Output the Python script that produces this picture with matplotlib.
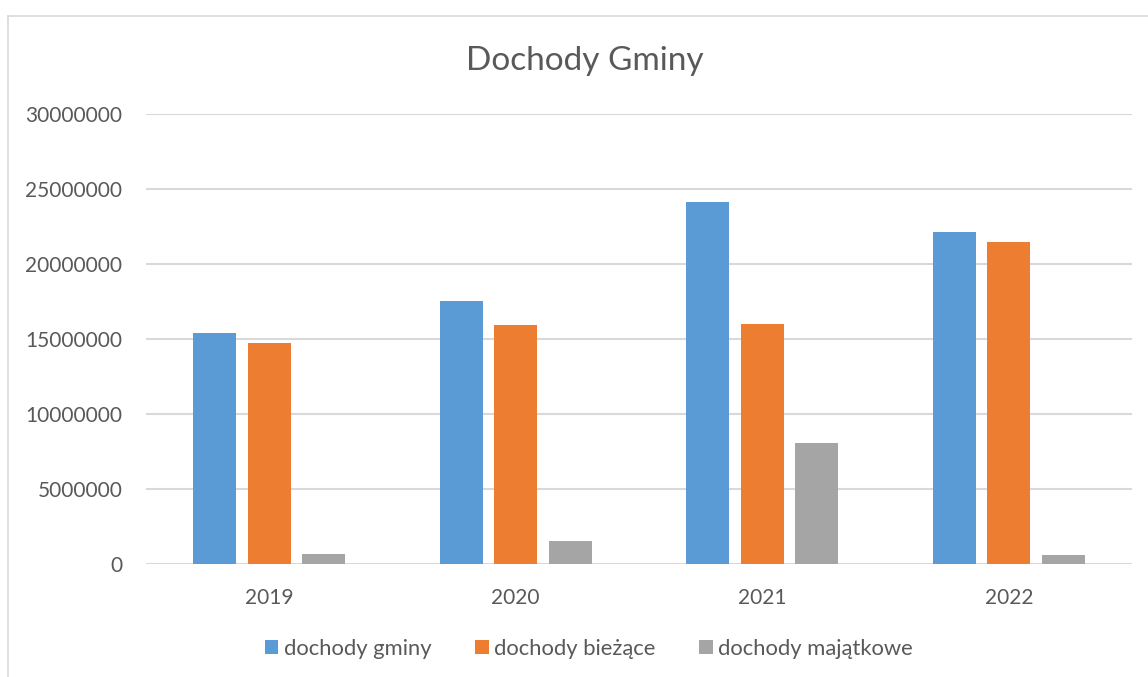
import matplotlib
matplotlib.use("Agg")
import matplotlib.pyplot as plt
from matplotlib.lines import Line2D
import numpy as np

years = ["2019", "2020", "2021", "2022"]
dochody_gminy = [15440000, 17530000, 24130000, 22130000]
dochody_biezace = [14750000, 15970000, 16000000, 21490000]
dochody_majatkowe = [670000, 1530000, 8090000, 600000]
series_names = ["dochody gminy", "dochody bieżące", "dochody majątkowe"]
colors = ["#5B9BD5", "#ED7D31", "#A5A5A5"]
yticks = [0, 5000000, 10000000, 15000000, 20000000, 25000000, 30000000]

plt.rcParams['font.family'] = ['Lato', 'DejaVu Sans']
text_color = "#595959"

fig = plt.figure(figsize=(11.48, 6.77), dpi=100)
ax = fig.add_axes([146/1148, 1 - 564.3/677, (1132-146)/1148, (564.3-114.3)/677])

x = np.arange(len(years))
step = 0.221
width = 0.175
for i, (vals, name, c) in enumerate(zip([dochody_gminy, dochody_biezace, dochody_majatkowe], series_names, colors)):
    ax.bar(x + (i - 1) * step, vals, width=width, color=c, label=name, zorder=3)

ax.set_xlim(-0.5, len(years) - 0.5)
ax.set_ylim(0, 30000000)
ax.set_yticks(yticks)
ax.set_yticklabels([str(v) for v in yticks])
ax.set_xticks(x)
ax.set_xticklabels(years)
ax.grid(axis='y', color='#D9D9D9', linewidth=1.5, zorder=0)
ax.set_axisbelow(True)
for s in ax.spines.values():
    s.set_visible(False)
ax.tick_params(axis='y', length=0, pad=17, labelsize=15, labelcolor=text_color)
ax.tick_params(axis='x', length=0, pad=17, labelsize=15, labelcolor=text_color)

fig.text(585/1148, 1 - 61/677, "Dochody Gminy", ha='center', va='center', fontsize=24, color=text_color)

leg = fig.legend(loc='center', bbox_to_anchor=(589/1148, 1 - 649/677), ncol=3, frameon=False,
                 fontsize=15.8, handlelength=0.6, handleheight=0.6, handletextpad=0.25,
                 columnspacing=2.0, labelcolor=text_color)

# chart border (top and left visible)
fig.add_artist(Line2D([8/1148, 8/1148], [0, 1 - 15.5/677], transform=fig.transFigure, color='#D9D9D9', linewidth=1.2))
fig.add_artist(Line2D([8/1148, 1], [1 - 15.5/677, 1 - 15.5/677], transform=fig.transFigure, color='#D9D9D9', linewidth=1.2))

fig.savefig("out.png", dpi=100, facecolor='white')
